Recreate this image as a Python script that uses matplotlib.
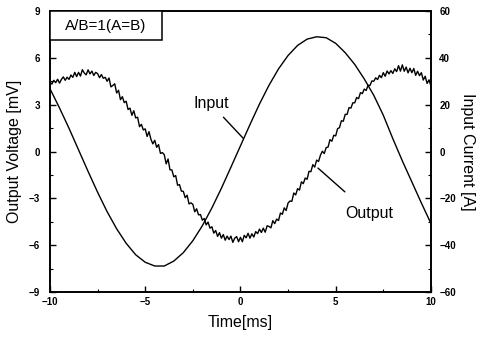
"""Dual-axis time trace: input current and output voltage, A/B=1 (A=B)."""

import matplotlib

matplotlib.use("Agg")
import matplotlib.pyplot as plt
import numpy as np
from matplotlib.patches import Rectangle
from matplotlib.ticker import MultipleLocator

plt.rcParams["font.family"] = ["Liberation Sans", "DejaVu Sans"]

# Input current [A], read every 0.5 ms
input_t = np.arange(-10.0, 10.01, 0.5)
input_a = [26.8, 18.6, 9.9, 0.7, -8.5, -17.4, -25.7, -33.0, -39.2, -44.1,
           -47.3, -48.9, -48.9, -46.8, -43.2, -38.1, -31.7, -24.1, -15.7, -6.7,
           2.4, 11.5, 20.3, 28.3, 35.3, 41.0, 45.3, 48.0, 49.0, 48.6,
           46.2, 42.2, 37.2, 31.0, 24.0, 15.5, 5.5, -4.0, -13.0, -22.0,
           -30.7]

# Output voltage [mV], read every 0.1 ms (noisy trace)
output_t = np.arange(-10.0, 10.001, 0.1)
output_mv = [
    4.45, 4.32, 4.56, 4.41, 4.63, 4.38, 4.62, 4.78, 4.56, 4.76,
    4.62, 4.90, 4.75, 5.07, 4.80, 5.07, 4.83, 5.24, 5.03, 4.91,
    5.23, 4.97, 5.15, 4.87, 5.07, 4.99, 4.73, 4.93, 4.69, 4.75,
    4.50, 4.71, 4.14, 4.23, 4.34, 3.75, 3.92, 3.32, 3.51, 3.13,
    3.22, 2.69, 2.78, 2.32, 2.61, 2.15, 2.20, 1.59, 1.74, 1.38,
    1.45, 0.96, 1.27, 0.78, 0.49, 0.72, 0.27, 0.44, -0.12, -0.07,
    -0.20, -0.79, -0.48, -1.17, -1.18, -1.62, -1.54, -2.16, -2.12, -2.54,
    -2.55, -2.96, -2.80, -3.36, -3.29, -3.38, -3.86, -3.67, -4.06, -4.04,
    -4.40, -4.29, -4.70, -4.52, -4.91, -4.82, -5.23, -5.06, -5.44, -5.20,
    -5.55, -5.32, -5.68, -5.42, -5.64, -5.42, -5.82, -5.55, -5.45, -5.78,
    -5.50, -5.78, -5.37, -5.53, -5.24, -5.55, -5.27, -5.48, -5.13, -5.26,
    -4.97, -5.19, -4.91, -5.17, -4.76, -4.80, -4.89, -4.43, -4.62, -4.33,
    -4.42, -3.94, -4.02, -3.61, -3.78, -3.30, -3.17, -3.19, -2.66, -2.78,
    -2.38, -2.47, -1.94, -2.06, -1.70, -1.78, -1.27, -1.29, -0.84, -1.00,
    -0.55, -0.64, -0.24, 0.02, -0.13, 0.25, 0.28, 0.76, 0.66, 1.04,
    1.00, 1.46, 1.53, 1.97, 1.94, 2.38, 2.38, 2.81, 2.78, 3.12,
    3.12, 3.46, 3.38, 3.77, 3.71, 4.00, 3.91, 4.24, 4.23, 4.52,
    4.50, 4.72, 4.61, 4.88, 4.73, 5.05, 4.82, 5.16, 4.97, 5.18,
    5.00, 5.30, 5.12, 5.50, 5.15, 5.55, 5.14, 5.41, 5.04, 5.33,
    5.05, 5.32, 4.88, 5.14, 4.86, 5.05, 4.58, 4.82, 4.36, 4.59,
    4.20,
]

x_ticks = [-10, -5, 0, 5, 10]
left_ticks = [-9, -6, -3, 0, 3, 6, 9]
right_ticks = [-60, -40, -20, 0, 20, 40, 60]

fig = plt.figure(figsize=(4.82, 3.41), dpi=100)
ax = fig.add_axes([0.1037, 0.1437, 0.7903, 0.824])
ax2 = ax.twinx()

ax.plot(output_t, output_mv, color="black", lw=1.0)
ax2.plot(input_t, input_a, color="black", lw=1.0)

ax.set_xlim(-10, 10)
ax.set_ylim(-9, 9)
ax2.set_ylim(-60, 60)

ax.set_xticks(x_ticks)
ax.set_yticks(left_ticks)
ax2.set_yticks(right_ticks)
ax.xaxis.set_minor_locator(MultipleLocator(2.5))
ax.yaxis.set_minor_locator(MultipleLocator(1.5))
ax2.yaxis.set_minor_locator(MultipleLocator(10))

for a in (ax, ax2):
    a.tick_params(which="major", direction="in", length=4, width=1.0,
                  labelsize=7)
    a.tick_params(which="minor", direction="in", length=2, width=0.8)
    for lab in a.get_xticklabels() + a.get_yticklabels():
        lab.set_fontweight("bold")
    for s in a.spines.values():
        s.set_linewidth(1.2)
ax.tick_params(axis="y", pad=7)
ax2.tick_params(axis="y", pad=6)

ax.set_xlabel("Time[ms]", fontsize=11.5, labelpad=6)
ax.set_ylabel("Output Voltage [mV]", fontsize=11.5, labelpad=5)
ax2.set_ylabel("Input Current [A]", fontsize=11.5, rotation=-90,
               labelpad=14)

# Рамка с подписью, прижатая к левому верхнему углу осей
ax2.add_patch(Rectangle((0, 1), 0.294, -0.103, transform=ax.transAxes,
                        facecolor="white", edgecolor="black", lw=1.1,
                        zorder=5, clip_on=False))
ax2.text(0.147, 0.948, "A/B=1(A=B)", transform=ax.transAxes, fontsize=11,
         ha="center", va="center", zorder=6)

# Подписи кривых со сносками
ax.annotate("Input", xy=(0.15, 0.84), xytext=(-1.55, 3.05),
            fontsize=11.5, ha="center", va="center",
            arrowprops=dict(arrowstyle="-", color="black", lw=1.0,
                            shrinkA=3, shrinkB=0))
ax.annotate("Output", xy=(4.07, -1.06), xytext=(6.75, -3.95),
            fontsize=11.5, ha="center", va="center",
            arrowprops=dict(arrowstyle="-", color="black", lw=1.0,
                            shrinkA=12, shrinkB=0))

fig.savefig("out.png", dpi=100, facecolor="white")
